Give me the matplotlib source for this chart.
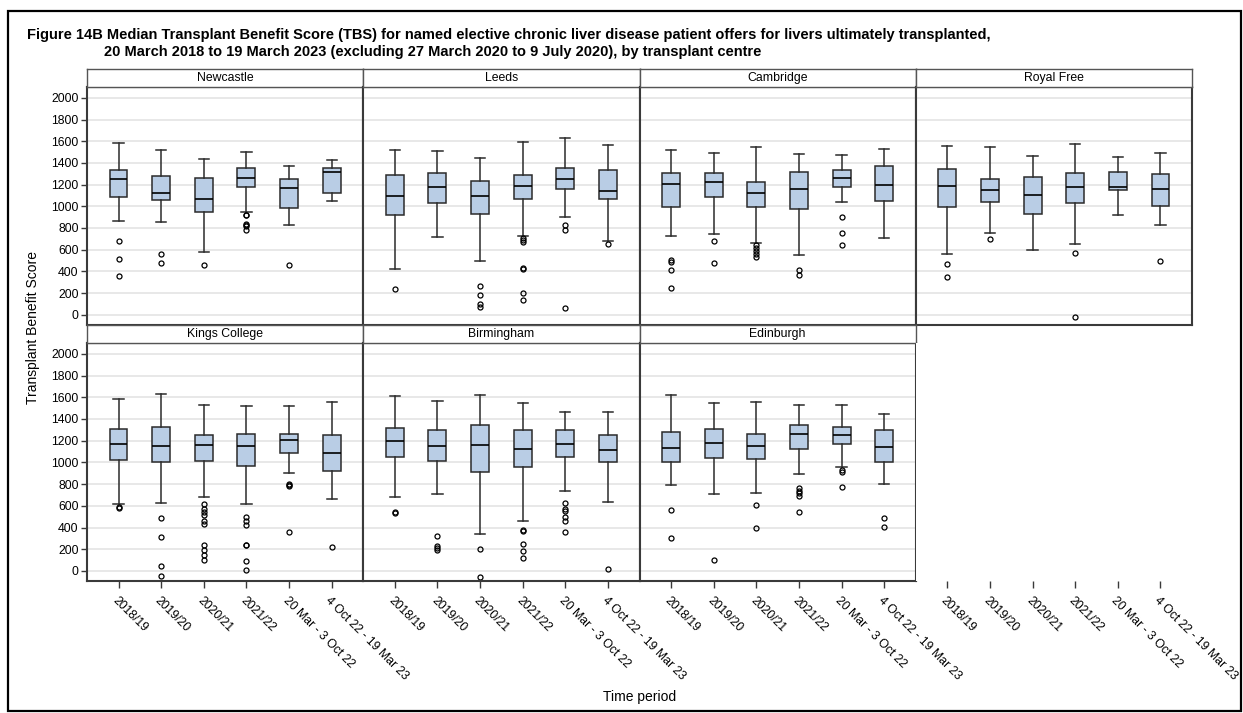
import matplotlib
matplotlib.use('Agg')
import matplotlib.pyplot as plt
from matplotlib.patches import Rectangle

plt.rcParams['font.family'] = ['Liberation Sans', 'DejaVu Sans']

# ---------------- data ----------------
centres = ['Newcastle', 'Leeds', 'Cambridge', 'Royal Free',
           'Kings College', 'Birmingham', 'Edinburgh']
periods = ['2018/19', '2019/20', '2020/21', '2021/22',
           '20 Mar - 3 Oct 22', '4 Oct 22 - 19 Mar 23']
y_ticks = [0, 200, 400, 600, 800, 1000, 1200, 1400, 1600, 1800, 2000]

# one row per centre (order as in `centres`), one value per period
whisker_low = [
    [867, 858, 580, 943, 827, 1053],
    [418, 717, 492, 730, 904, 681],
    [724, 745, 659, 553, 1044, 705],
    [559, 751, 598, 650, 922, 830],
    [618, 630, 685, 615, 899, 664],
    [685, 709, 339, 456, 734, 636],
    [789, 712, 716, 893, 957, 804],
]
q1 = [
    [1084, 1062, 949, 1182, 983, 1120],
    [922, 1029, 931, 1066, 1160, 1069],
    [995, 1084, 995, 977, 1175, 1050],
    [995, 1038, 928, 1026, 1154, 1007],
    [1021, 1003, 1009, 963, 1086, 924],
    [1052, 1012, 914, 957, 1052, 1000],
    [1006, 1040, 1031, 1119, 1171, 1000],
]
median = [
    [1252, 1124, 1069, 1261, 1169, 1319],
    [1096, 1175, 1096, 1188, 1252, 1145],
    [1206, 1227, 1124, 1160, 1261, 1197],
    [1188, 1151, 1105, 1178, 1175, 1160],
    [1168, 1150, 1159, 1150, 1205, 1086],
    [1199, 1150, 1159, 1122, 1168, 1113],
    [1131, 1177, 1150, 1260, 1251, 1141],
]
q3 = [
    [1337, 1276, 1261, 1349, 1255, 1349],
    [1285, 1307, 1233, 1285, 1352, 1331],
    [1304, 1310, 1224, 1316, 1331, 1374],
    [1340, 1252, 1273, 1307, 1319, 1298],
    [1306, 1330, 1251, 1263, 1266, 1248],
    [1315, 1297, 1346, 1297, 1300, 1248],
    [1281, 1312, 1266, 1342, 1324, 1297],
]
whisker_high = [
    [1588, 1517, 1438, 1502, 1368, 1426],
    [1520, 1511, 1441, 1597, 1633, 1569],
    [1517, 1496, 1545, 1481, 1475, 1530],
    [1560, 1548, 1462, 1575, 1450, 1487],
    [1587, 1627, 1532, 1517, 1520, 1557],
    [1615, 1563, 1624, 1544, 1468, 1462],
    [1618, 1544, 1560, 1529, 1532, 1443],
]

outliers_newcastle = [[684, 510, 360], [562, 473], [455],
                      [922, 916, 840, 830, 818, 778], [455], []]
outliers_leeds = [[235], [], [266, 183, 98, 73],
                  [708, 693, 675, 427, 424, 198, 137], [830, 782, 61], [650]]
outliers_cambridge = [[504, 488, 409, 250], [681, 479],
                      [644, 611, 586, 562, 534], [415, 369], [898, 757, 644], []]
outliers_royal_free = [[470, 345], [696], [], [571, -21], [], [495]]
outliers_kings = [[593, 581], [489, 315, 49, -43],
                  [618, 566, 544, 517, 462, 428, 242, 196, 147, 104],
                  [501, 462, 422, 242, 239, 89, 12], [801, 792, 786, 361], [220]]
outliers_birmingham = [[544, 535], [321, 232, 211, 190], [205, -55],
                       [379, 364, 251, 183, 116], [624, 566, 550, 495, 459, 358], [18]]
outliers_edinburgh = [[557, 306], [104], [605, 391],
                      [768, 734, 719, 694, 544], [927, 914, 771], [486, 401]]
outliers = [outliers_newcastle, outliers_leeds, outliers_cambridge,
            outliers_royal_free, outliers_kings, outliers_birmingham,
            outliers_edinburgh]

title_line1 = ('Figure 14B Median Transplant Benefit Score (TBS) for named elective '
               'chronic liver disease patient offers for livers ultimately transplanted,')
title_line2 = ('20 March 2018 to 19 March 2023 (excluding 27 March 2020 to 9 July 2020), '
               'by transplant centre')

# ---------------- layout ----------------
W, H = 1243, 713
fig = plt.figure(figsize=(W / 100, H / 100), dpi=100)


def rect(left, top, right, bottom):
    return [left / W, 1 - bottom / H, (right - left) / W, (bottom - top) / H]


col_left = 87.0
col_w = (1192.0 - 87.0) / 4
row_panel = [(87.0, 324.5), (343.0, 580.7)]
strip_h = 18.0

BOX_FC = '#B9CDE5'
EDGE = '#2b2b2b'
FRAME = '#3a3a3a'
TICK_FS = 8.8


def style_panel(ax, show_y, show_x):
    ax.set_xlim(-0.74, 5.74)
    ax.set_ylim(-90, 2100)
    ax.set_yticks(y_ticks)
    ax.yaxis.grid(True, color='#E6E6E6', lw=1.3)
    ax.set_axisbelow(True)
    for s in ax.spines.values():
        s.set_color(FRAME)
        s.set_linewidth(1.5)
    ax.tick_params(axis='y', left=show_y, labelleft=show_y, length=4,
                   width=1, color=FRAME, labelsize=TICK_FS, pad=2)
    ax.set_xticks(range(len(periods)))
    if show_x:
        ax.set_xticklabels(periods, rotation=-45, ha='left', va='top',
                           rotation_mode='anchor', fontsize=TICK_FS)
        ax.tick_params(axis='x', bottom=True, length=5, width=1,
                       color=FRAME, pad=5)
    else:
        ax.tick_params(axis='x', bottom=False, labelbottom=False)


for k, name in enumerate(centres):
    r, c = divmod(k, 4)
    top, bottom = row_panel[r]
    left = col_left + c * col_w
    right = left + col_w
    ax = fig.add_axes(rect(left, top, right, bottom))
    stats = []
    for j in range(len(periods)):
        stats.append(dict(med=median[k][j], q1=q1[k][j], q3=q3[k][j],
                          whislo=whisker_low[k][j], whishi=whisker_high[k][j],
                          fliers=outliers[k][j]))
    ax.bxp(stats, positions=list(range(len(periods))), widths=0.42,
           capwidths=0.24, patch_artist=True, showfliers=True,
           boxprops=dict(facecolor=BOX_FC, edgecolor=EDGE, linewidth=1.1),
           medianprops=dict(color='black', linewidth=1.2),
           whiskerprops=dict(color=EDGE, linewidth=1.1),
           capprops=dict(color=EDGE, linewidth=1.1),
           flierprops=dict(marker='o', markersize=3.6, markerfacecolor='none',
                           markeredgecolor='black', markeredgewidth=0.9))
    style_panel(ax, c == 0, r == 1)

    # strip header
    sax = fig.add_axes(rect(left, top - strip_h, right, top))
    sax.set_xticks([])
    sax.set_yticks([])
    for s in sax.spines.values():
        s.set_color('#555555')
        s.set_linewidth(1.0)
    sax.text(0.5, 0.5, name, ha='center', va='center', fontsize=TICK_FS,
             transform=sax.transAxes)

# empty cell (row 2, column 4): only the x axis tick labels
left = col_left + 3 * col_w
eax = fig.add_axes(rect(left, row_panel[1][0], left + col_w, row_panel[1][1]))
eax.set_xlim(-0.74, 5.74)
eax.set_ylim(-90, 2100)
for s in eax.spines.values():
    s.set_visible(False)
eax.set_yticks([])
eax.set_xticks(range(len(periods)))
eax.set_xticklabels(periods, rotation=-45, ha='left', va='top',
                    rotation_mode='anchor', fontsize=TICK_FS)
eax.tick_params(axis='x', bottom=True, length=5, width=1, color=FRAME, pad=5)

# labels and title
fig.text(33 / W, 1 - 328 / H, 'Transplant Benefit Score', rotation=90,
         ha='center', va='center', fontsize=10)
fig.text(639.5 / W, 1 - 697 / H, 'Time period', ha='center', va='center',
         fontsize=10)
fig.text(27 / W, 1 - 35 / H, title_line1, ha='left', va='center',
         fontweight='bold', fontsize=10.5)
fig.text(104 / W, 1 - 52 / H, title_line2, ha='left', va='center',
         fontweight='bold', fontsize=10.5)

fig.add_artist(Rectangle((8 / W, 1 - 711 / H), (1241 - 8) / W, (711 - 11) / H,
                         transform=fig.transFigure, fill=False, lw=1.6,
                         edgecolor='black'))

fig.savefig('out.png', dpi=100)
